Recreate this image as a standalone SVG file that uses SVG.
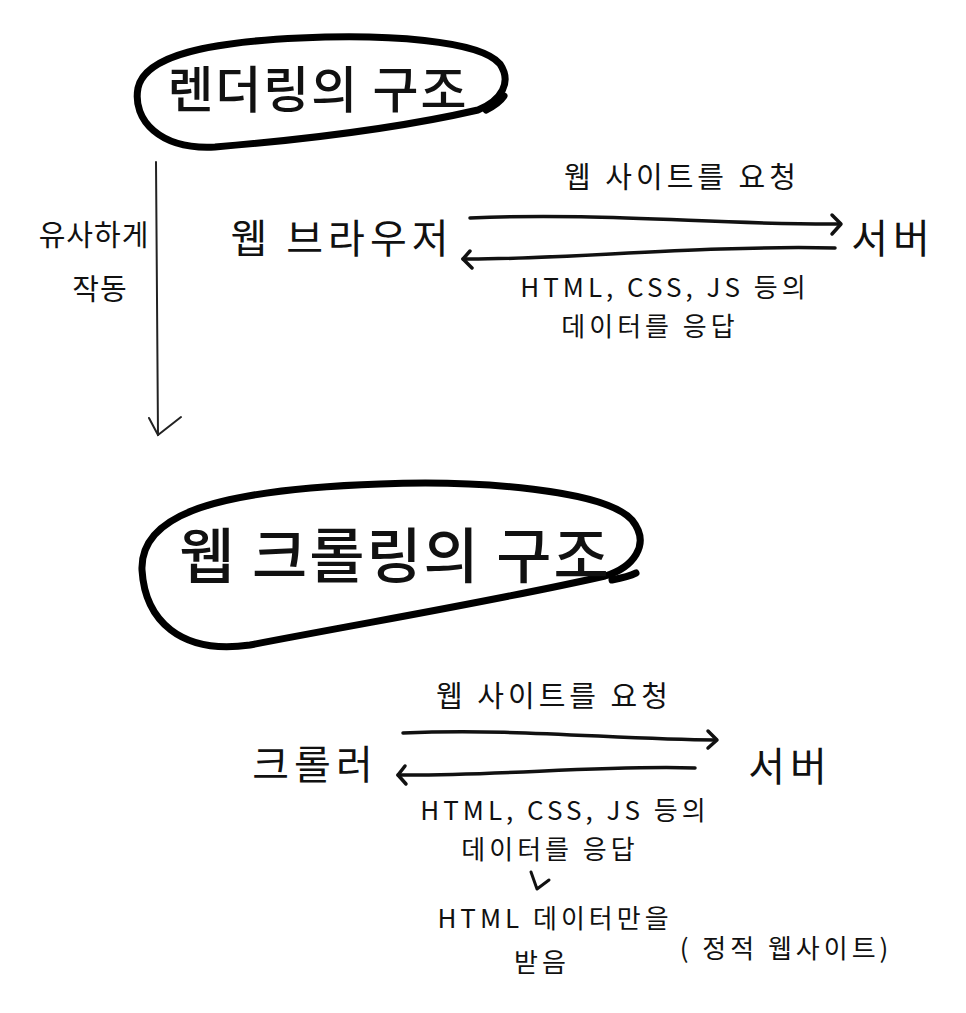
<svg xmlns="http://www.w3.org/2000/svg" width="966" height="1013" viewBox="0 0 966 1013">
<defs>
<style>
.t{font-family:"Noto Sans CJK KR","Noto Sans",sans-serif;fill:#111;}
.title{font-size:50px;font-weight:500;letter-spacing:2px;}
.big{font-size:40px;letter-spacing:5px;}
.mid{font-size:29px;letter-spacing:4px;}
.sm{font-size:26px;letter-spacing:4px;}
.ln{fill:none;stroke:#111;stroke-width:3.5;stroke-linecap:round;stroke-linejoin:round;}
.blob{fill:none;stroke:#000;stroke-width:7;stroke-linecap:round;stroke-linejoin:round;}
.thin{fill:none;stroke:#222;stroke-width:2;stroke-linecap:round;}
</style>
</defs>
<rect width="966" height="1013" fill="#fff"/>

<g id="title-render">
<path class="blob" d="M300,38 C385,34 480,40 500,64 C512,82 502,100 478,110 C400,128 300,140 215,147 C160,150 132,120 138,88 C145,55 210,42 300,38 Z"/>
<path class="blob" d="M486,110 C494,106 500,102 504,96"/>
<text class="t title" x="318" y="108" text-anchor="middle">렌더링의 구조</text>
</g>

<g id="similar">
<text class="t mid" x="94" y="246" text-anchor="middle" style="letter-spacing:1px">유사하게</text>
<text class="t mid" x="100" y="300" text-anchor="middle" style="letter-spacing:1px">작동</text>
</g>

<g id="browser"><text class="t big" x="342" y="253" text-anchor="middle">웹 브라우저</text></g>
<g id="server1"><text class="t big" x="893" y="253" text-anchor="middle">서버</text></g>
<g id="crawler"><text class="t big" x="315" y="779" text-anchor="middle">크롤러</text></g>
<g id="server2"><text class="t big" x="790" y="781" text-anchor="middle">서버</text></g>

<g id="title-crawl">
<path class="blob" d="M380,484 C480,480 605,490 632,520 C652,545 632,568 605,576 C500,600 380,620 250,645 C180,655 145,620 142,570 C140,520 200,490 380,484 Z"/>
<path class="blob" d="M612,580 C622,578 630,576 636,573"/>
<text class="t title" x="395" y="578" text-anchor="middle" style="font-size:60px">웹 크롤링의 구조</text>
</g>

<g id="connectors">
<path class="thin" d="M156,162 L158,435"/>
<path class="thin" d="M149,418 L158,435 L181,417"/>

<path class="ln" d="M470,218 C600,212 720,225 840,224"/>
<path class="ln" d="M832,215 L841,224 L832,234"/>
<path class="ln" d="M835,248 C700,245 560,260 463,259"/>
<path class="ln" d="M470,251 L463,259 L472,268"/>

<path class="ln" d="M403,733 C520,728 620,740 716,740"/>
<path class="ln" d="M708,731 L717,740 L708,748"/>
<path class="ln" d="M695,768 C600,765 500,776 398,775"/>
<path class="ln" d="M405,766 L398,775 L406,784"/>

<path class="ln" d="M531,872 L537,889 L549,880" style="stroke-width:3"/>
</g>

<g id="labels">
<text class="t mid" x="682" y="188" text-anchor="middle">웹 사이트를 요청</text>
<text class="t sm" x="665" y="297" text-anchor="middle">HTML, CSS, JS 등의</text>
<text class="t sm" x="650" y="336" text-anchor="middle">데이터를 응답</text>

<text class="t mid" x="554" y="707" text-anchor="middle">웹 사이트를 요청</text>
<text class="t sm" x="565" y="820" text-anchor="middle">HTML, CSS, JS 등의</text>
<text class="t sm" x="550" y="859" text-anchor="middle">데이터를 응답</text>
<text class="t sm" x="555" y="928" text-anchor="middle">HTML 데이터만을</text>
<text class="t sm" x="542" y="972" text-anchor="middle">받음</text>
<text class="t sm" x="786" y="958" text-anchor="middle">( 정적 웹사이트)</text>
</g>
</svg>
